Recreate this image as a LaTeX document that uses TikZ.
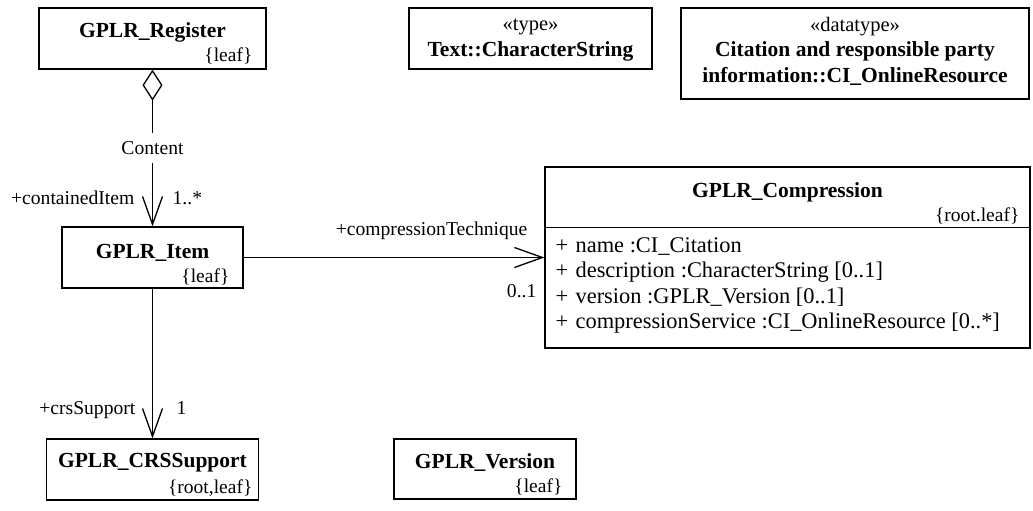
\documentclass[tikz,border=0pt]{standalone}
\usepackage{fontspec}
\setmainfont{Liberation Serif}
\usetikzlibrary{arrows.meta}
% type sizes used in the diagram
\newcommand\namefont{\fontsize{21.5pt}{26pt}\selectfont\bfseries}
\newcommand\attrfont{\fontsize{22.4pt}{25.5pt}\selectfont}
\newcommand\stereofont{\fontsize{20.5pt}{25pt}\selectfont}
\newcommand\tagfont{\fontsize{19.5pt}{23pt}\selectfont}
\newcommand\rolefont{\fontsize{19.6pt}{23pt}\selectfont}
\begin{document}
\begin{tikzpicture}[x=1pt, y=-1pt, line width=1.3pt,
  classbox/.style 2 args={draw, rectangle, inner sep=0pt, minimum width=#1, minimum height=#2},
  title/.style={font=\namefont, anchor=base, inner sep=0pt},
  stereo/.style={font=\stereofont, anchor=base, inner sep=0pt},
  tag/.style={font=\tagfont, anchor=base east, inner sep=0pt},
  attr/.style={font=\attrfont, anchor=base west, inner sep=0pt},
  rolel/.style={font=\rolefont, anchor=base east, inner sep=0pt},
  roler/.style={font=\rolefont, anchor=base west, inner sep=0pt},
  assoc/.style={line width=1.3pt, -{Straight Barb[length=28pt, width=20pt, line width=1.3pt]}},
  aggr/.style={line width=1.3pt, {Diamond[open, length=31pt, width=20pt, line width=1.3pt]}-{Straight Barb[length=28pt, width=20pt, line width=1.3pt]}}
]
\useasboundingbox (0,0) rectangle (1033,511);

% class boxes
\node[classbox={227pt}{61pt}] (reg)  at (152.5,38.5) {};
\node[classbox={181pt}{61pt}] (item) at (152.5,257.5) {};
\node[classbox={212pt}{61pt}] (crs)  at (152.5,469.5) {};
\node[classbox={182pt}{60pt}] (ver)  at (485,469) {};
\node[classbox={243pt}{61pt}] (txt)  at (530.5,38.5) {};
\node[classbox={348pt}{91pt}] (dt)   at (855,53.5) {};
\node[classbox={485pt}{181pt}] (comp) at (787.5,257.5) {};
\draw ([yshift=-61pt]comp.north west) -- ([yshift=-61pt]comp.north east);

% class names and constraints
\node[title] (regname) at (152.5,38) {GPLR\_Register};
\node[tag]   (regtag)  at (253,62) {\{leaf\}};
\node[title] (itemname) at (152.5,258) {GPLR\_Item};
\node[tag]   (itemtag)  at (230,282) {\{leaf\}};
\node[title] (crsname) at (152.5,467) {GPLR\_CRSSupport};
\node[tag]   (crstag)  at (253,493) {\{root,leaf\}};
\node[title] (vername) at (485,468) {GPLR\_Version};
\node[tag]   (vertag)  at (563,492) {\{leaf\}};
\node[stereo] (txtst)   at (530.5,31) {«type»};
\node[title] (txtname) at (530.5,57) {Text::CharacterString};
\node[stereo] (dtst)    at (855,32) {«datatype»};
\node[title] (dtname1) at (855,57) {Citation and responsible party};
\node[title] (dtname2) at (855,82) {information::CI\_OnlineResource};
\node[title] (compname) at (787.5,197) {GPLR\_Compression};
\node[tag]   (comptag)  at (1020,221) {\{root.leaf\}};

% attributes
\node[attr] (a1) at (555,252) {\makebox[20pt][l]{+}name :CI\_Citation};
\node[attr] (a2) at (555,277.5) {\makebox[20pt][l]{+}description :CharacterString [0..1]};
\node[attr] (a3) at (555,303) {\makebox[20pt][l]{+}version :GPLR\_Version [0..1]};
\node[attr] (a4) at (555,328.5) {\makebox[20pt][l]{+}compressionService :CI\_OnlineResource [0..*]};

% associations
\draw[aggr] (reg.south) -- node[font=\rolefont, fill=white, inner xsep=2pt, inner ysep=8pt] (content) {Content} (item.north);
\draw[assoc] (item.south) -- (crs.north);
\draw[assoc] (item.east) -- (item.east -| comp.west);

% role names and multiplicities
\node[rolel] (contained) at (135,204) {+containedItem};
\node[roler] (containedm) at (172,204) {1..*};
\node[rolel] (crsrole) at (136,414) {+crsSupport};
\node[roler] (crsm) at (176,414) {1};
\node[rolel] (comprole) at (528,235) {+compressionTechnique};
\node[rolel] (compm) at (537,297) {0..1};
\end{tikzpicture}
\end{document}
